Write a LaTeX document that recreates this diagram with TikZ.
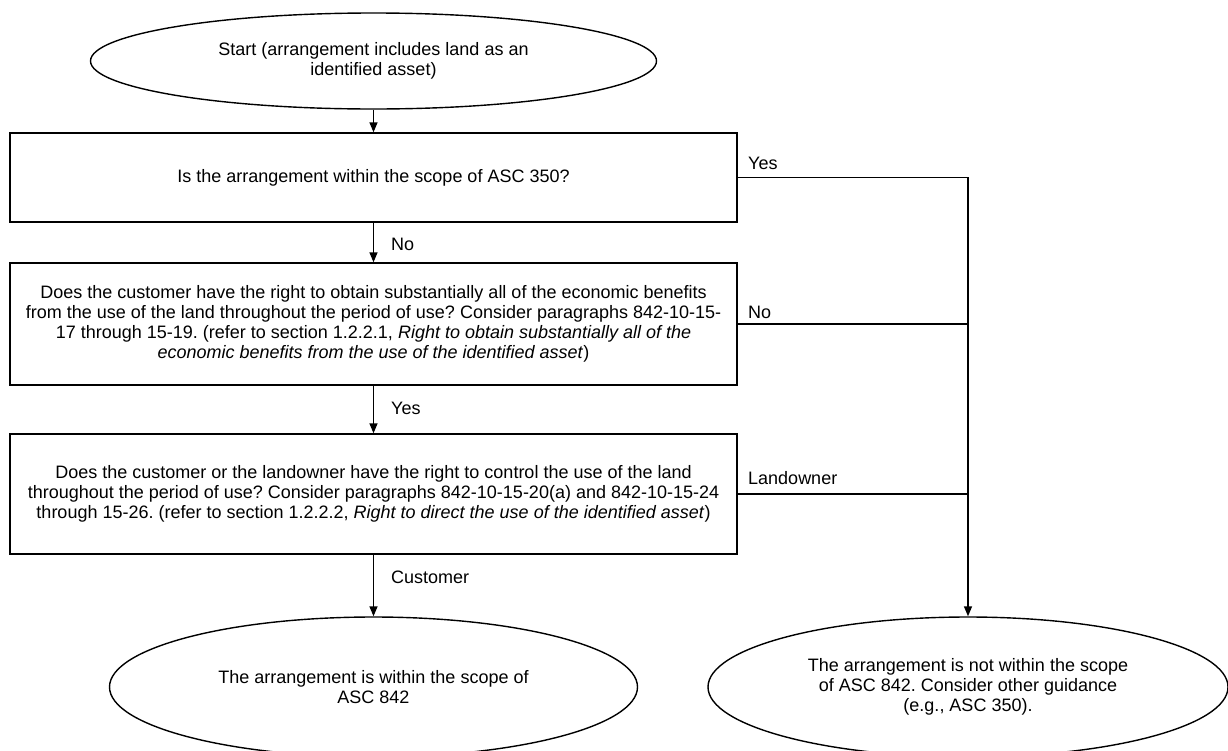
\documentclass[tikz,border=0pt]{standalone}
\usepackage{fontspec}
\setmainfont{Liberation Sans}
\usetikzlibrary{shapes.geometric,arrows.meta}
\frenchspacing
\begin{document}
\begin{tikzpicture}[x=1pt,y=-1pt,
  every node/.style={font=\fontsize{18}{20}\selectfont, inner sep=0pt},
  box/.style={draw, line width=1.4pt, rectangle, align=center},
  oval/.style={draw, line width=1.4pt, ellipse, align=center},
  lab/.style={anchor=west},
  arr/.style={line width=1.4pt, -{Triangle[length=10pt,width=8pt]}},
  ln/.style={line width=1.4pt}]
\useasboundingbox (0,0) rectangle (1228,750);

\node[oval, minimum width=566pt, minimum height=96pt] (e1) at (373.5,61)
  {Start (arrangement includes land as an\\identified asset)};

\node[box, minimum width=727pt, minimum height=89pt] (b1) at (373.5,177.5)
  {Is the arrangement within the scope of ASC 350?};

\node[box, minimum width=727pt, minimum height=122pt] (b2) at (373.5,324)
  {Does the customer have the right to obtain substantially all of the economic benefits\\
   from the use of the land throughout the period of use? Consider paragraphs 842-10-15-\\
   17 through 15-19. (refer to section 1.2.2.1, \textit{Right to obtain substantially all of the}\\
   \textit{economic benefits from the use of the identified asset})};

\node[box, minimum width=727pt, minimum height=120pt] (b3) at (373.5,494)
  {Does the customer or the landowner have the right to control the use of the land\\
   throughout the period of use? Consider paragraphs 842-10-15-20(a) and 842-10-15-24\\
   through 15-26. (refer to section 1.2.2.2, \textit{Right to direct the use of the identified asset})};

\node[oval, minimum width=528pt, minimum height=140pt] (e2) at (373.5,687)
  {The arrangement is within the scope of\\ASC 842};

\node[oval, minimum width=520pt, minimum height=140pt] (e3) at (968,687)
  {The arrangement is not within the scope\\of ASC 842. Consider other guidance\\(e.g., ASC 350).};

% vertical flow
\draw[arr] (e1.south) -- (b1.north);
\draw[arr] (b1.south) -- (b2.north);
\draw[arr] (b2.south) -- (b3.north);
\draw[arr] (b3.south) -- (e2.north);

% right side
\draw[arr] (b1.east) -- (b1.east -| e3.north) -- (e3.north);
\draw[ln] (b2.east) -- (b2.east -| e3.north);
\draw[ln] (b3.east) -- (b3.east -| e3.north);

% labels
\node[lab] (lyes1) at (748,163) {Yes};
\node[lab] (lno2) at (748,312) {No};
\node[lab] (lland) at (748,478) {Landowner};
\node[lab] (lno1) at (391,244) {No};
\node[lab] (lyes2) at (391,408) {Yes};
\node[lab] (lcust) at (391,577) {Customer};
\end{tikzpicture}
\end{document}
